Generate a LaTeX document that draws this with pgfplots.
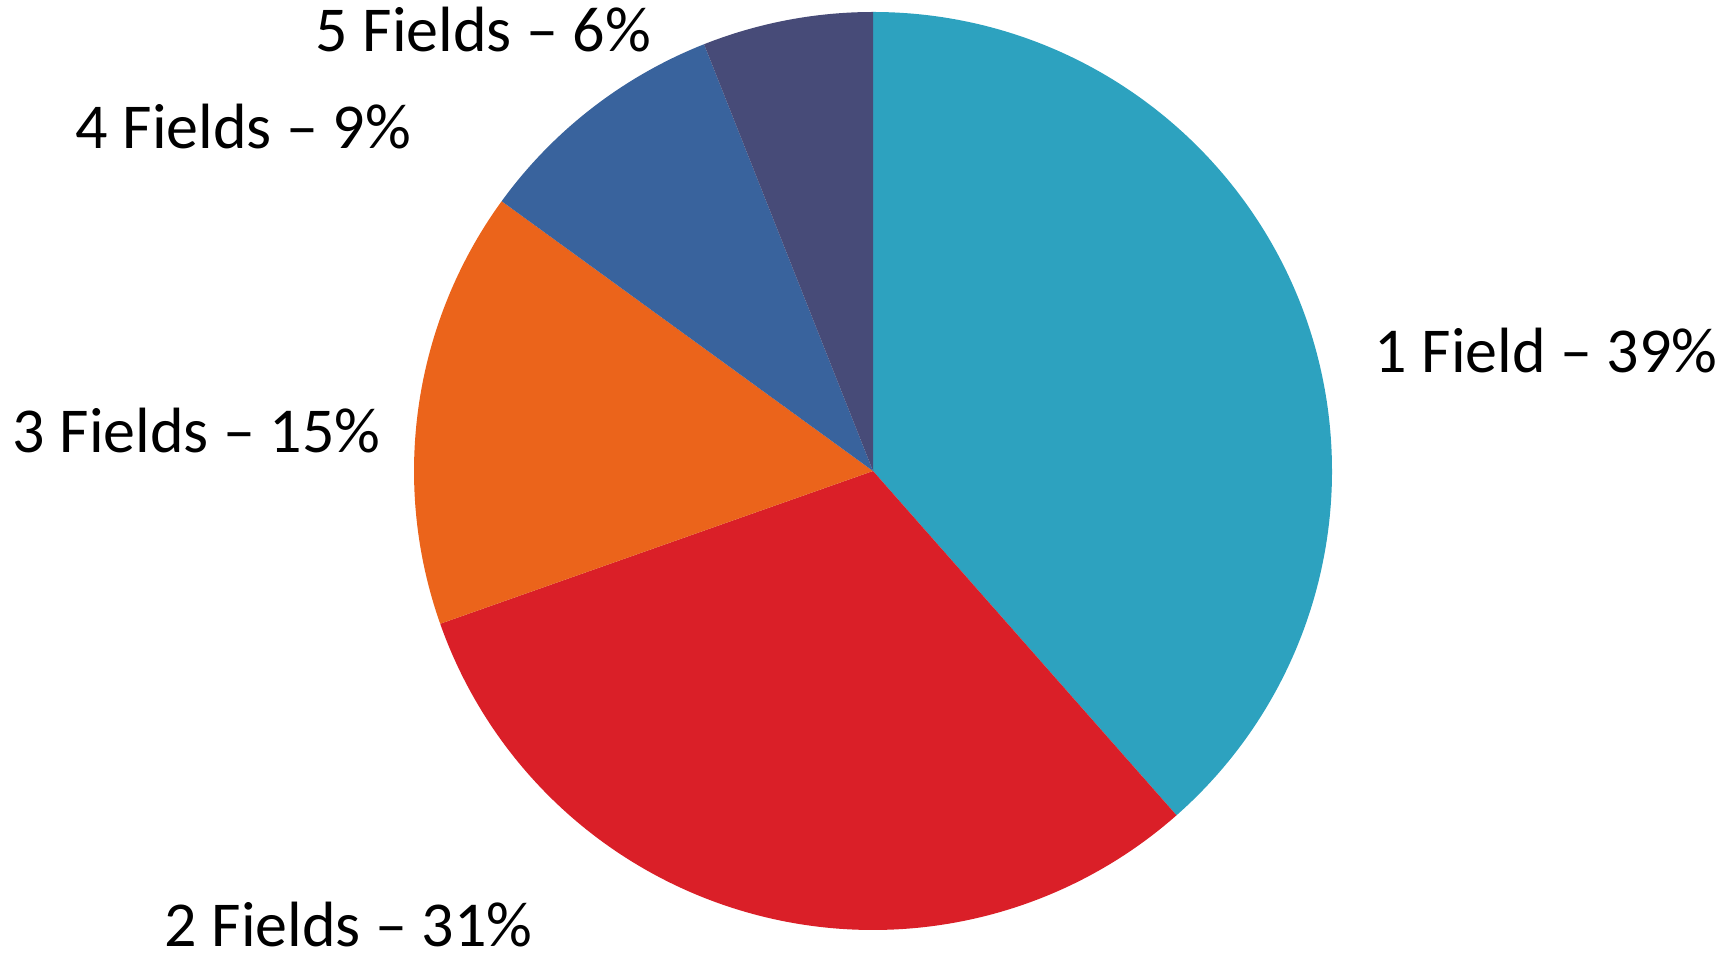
\documentclass[border=0pt]{standalone}
\usepackage{pgfplots}
\usepackage{pgfplotstable}
\pgfplotsset{compat=1.18}
\usepackage{fontspec}
\setmainfont{Carlito}

\definecolor{sliceA}{HTML}{2DA2BF}
\definecolor{sliceB}{HTML}{DA1F28}
\definecolor{sliceC}{HTML}{EB641B}
\definecolor{sliceD}{HTML}{39639D}
\definecolor{sliceE}{HTML}{474B78}

% shares of the pie, in percent, clockwise from 12 o'clock
\pgfplotstableread{
share
38.5
31.1
15.4
9.0
6.0
}\piedata

% cumulative angles
\def\acc{90}
\pgfplotsforeachungrouped \i in {0,...,4}{%
  \pgfplotstablegetelem{\i}{share}\of\piedata
  \pgfmathsetmacro\nextacc{\acc-3.6*\pgfplotsretval}%
  \expandafter\xdef\csname sa\i\endcsname{\acc}%
  \expandafter\xdef\csname ea\i\endcsname{\nextacc}%
  \global\let\acc\nextacc
}

% centre (873,479), radius 459 in axis units; 1 unit = 0.25pt
\newcommand\pieslice[3]{%
  \fill[#3] (axis cs:873,479) -- (axis cs:{873+459*cos(#1)},{479+459*sin(#1)})
    arc[start angle=#1, end angle=#2, radius=114.75pt] -- cycle;}

\begin{document}
\begin{tikzpicture}
\begin{axis}[
    scale only axis,
    width=433.75pt, height=237.5pt,
    xmin=0, xmax=1735, ymin=0, ymax=950,
    hide axis, clip=false,
    ]
  \path (axis cs:0,0) rectangle (axis cs:1735,950);
  \pgfplotsinvokeforeach{0,...,4}{%
    \edef\tmp{\noexpand\pieslice{\csname sa#1\endcsname}{\csname ea#1\endcsname}{slice\ifcase#1 A\or B\or C\or D\or E\fi}}\tmp
  }
  \begin{scope}[every node/.style={inner sep=0pt, anchor=base west, font=\fontsize{16}{19}\selectfont}]
    \node at (axis cs:1374,577) {1 Field -- 39\%};
    \node at (axis cs:164,3) {2 Fields -- 31\%};
    \node at (axis cs:12,497) {3 Fields -- 15\%};
    \node at (axis cs:75,801) {4 Fields -- 9\%};
    \node at (axis cs:315,898) {5 Fields -- 6\%};
  \end{scope}
\end{axis}
\end{tikzpicture}
\end{document}
